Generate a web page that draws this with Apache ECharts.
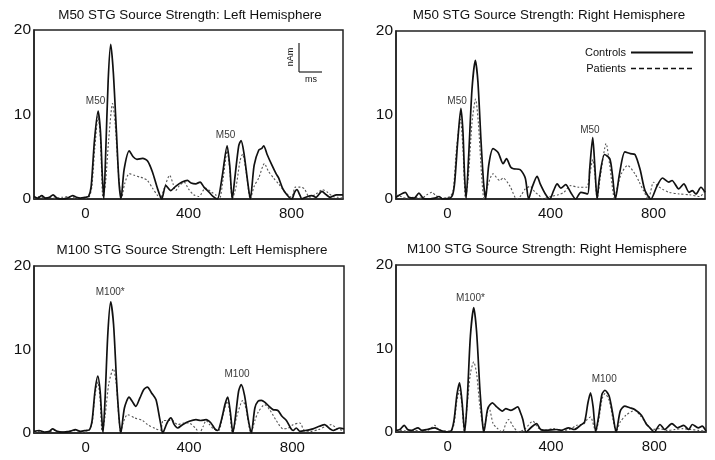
<!DOCTYPE html>
<html>
<head>
<meta charset="utf-8">
<script src="https://cdn.jsdelivr.net/npm/echarts@6/dist/echarts.min.js"></script>
<style>
  html, body { margin: 0; padding: 0; background: #fff; }
  #main { width: 715px; height: 460px; }
</style>
</head>
<body>
<div id="main"></div>
<script>
// panel titles
const titles = [
  'M50 STG Source Strength: Left Hemisphere',
  'M50 STG Source Strength: Right Hemisphere',
  'M100 STG Source Strength: Left Hemisphere',
  'M100 STG Source Strength: Right Hemisphere'
]

// time (ms) vs source strength (nAm)
const m50LeftControls = [[-200,0.3],[-185,0.1],[-170,0.4],[-155,0.1],[-140,0.2],[-126,0.5],[-110,0.1],[-90,0],[-70,0.1],[-50,0.4],[-35,0.2],[-20,0.1],[0,0.2],[12,0.3],[22,1.5],[35,7],[49,10.4],[58,8],[65,3],[71,0],[78,5],[88,14],[98,18.3],[108,15],[120,8],[130,2],[138,0],[150,3.5],[170,5.7],[185,5],[200,4.7],[222,4.8],[241,4.5],[260,3.2],[280,1.2],[296,0],[312,1.6],[331,1.0],[350,1.5],[375,2.0],[396,2.2],[410,1.9],[428,1.8],[445,2.0],[460,1.4],[480,0.8],[495,0.3],[512,0],[530,2.5],[550,6.3],[560,4],[570,0],[580,2.5],[595,6.3],[604,6.9],[615,5.5],[630,2],[640,0],[655,4],[673,5.8],[685,6.0],[692,6.3],[705,5.3],[724,4.0],[740,3.0],[750,2.5],[765,1.3],[782,0.5],[801,0],[812,0.8],[821,1.1],[832,0.5],[840,0],[855,0.2],[879,0.4],[895,0.2],[918,0.9],[935,0.5],[950,0.2],[975,0.5],[1000,0.5]]
const m50LeftPatients = [[-200,0.1],[-180,0.3],[-160,0.1],[-140,0.2],[-120,0.1],[-90,0.2],[-60,0.3],[-40,0.1],[0,0.1],[15,0.3],[25,1.5],[36,6],[49,9.8],[58,7],[68,0],[78,2],[90,7],[105,11.3],[115,9],[128,3],[140,0],[152,1.8],[170,3.0],[190,2.8],[210,2.6],[222,2.5],[240,2.2],[260,1.3],[280,0.4],[290,0],[305,1.2],[327,2.8],[340,1.8],[350,1.0],[365,1.6],[383,2.0],[400,1.2],[420,0.5],[440,0.3],[466,1.3],[490,0.8],[505,0.5],[520,0],[535,2.5],[550,5.7],[560,3.5],[570,0],[585,1.5],[600,4.5],[610,5.3],[625,3],[640,0],[655,1.5],[673,2.5],[695,4.2],[710,3.3],[730,2.5],[750,1.8],[770,1.0],[800,0.2],[815,1.4],[835,1.4],[850,1.2],[870,0.2],[895,0.6],[920,1.1],[940,0.8],[960,0.3],[980,0.2],[1000,0.1]]

const m50RightControls = [[-200,0.2],[-185,0.5],[-164,0.8],[-150,0.2],[-130,0.1],[-111,0.7],[-95,0.1],[-70,0],[-50,0.1],[-33,0.3],[-20,0],[10,0.1],[20,0.5],[28,2],[40,7],[52,10.8],[60,8],[66,3],[72,0],[82,5],[95,13],[108,16.5],[118,14],[130,7],[140,2],[148,0],[160,4],[177,6.0],[197,5.5],[216,4.2],[229,4.8],[245,3.8],[256,3.6],[282,3.5],[302,2.5],[315,0],[330,1.5],[348,2.7],[360,1.8],[380,0.6],[397,0],[412,1.0],[426,1.8],[440,1.3],[459,1.7],[478,0.8],[498,0],[518,0.8],[544,0.6],[552,3.5],[564,7.3],[572,4],[581,0],[590,2.5],[610,5.3],[630,4.8],[640,3],[652,0],[668,3],[689,5.6],[710,5.4],[728,5.3],[748,3.5],[767,1.0],[790,0],[813,1.5],[835,2.5],[859,2.0],[872,2.2],[898,1.2],[918,1.8],[938,0.8],[951,1.0],[965,0.6],[984,1.4],[1000,0.8]]
const m50RightPatients = [[-200,0.5],[-180,0.3],[-160,0.1],[-130,0.2],[-100,0.1],[-80,0.5],[-60,0.8],[-45,0.4],[-20,0.1],[10,0.3],[22,1],[35,6],[50,9.5],[60,6],[70,0],[82,3],[95,9],[109,11.9],[120,9],[132,3],[142,0],[155,1.5],[177,3.0],[203,2.2],[216,2.5],[243,1.5],[269,0],[285,0.4],[302,1.2],[321,1.5],[340,0.8],[354,0.5],[370,0],[400,0.3],[430,0.5],[452,0.8],[479,1.6],[510,1.4],[540,1.4],[553,3],[564,4.7],[572,3],[581,0],[595,3],[616,6.6],[630,4],[649,0],[660,1.5],[675,3.0],[699,4.0],[728,3.0],[745,2.0],[761,1.0],[780,0],[800,2.0],[815,1.6],[833,1.2],[860,0.8],[900,0.6],[940,0.5],[980,0.3],[1000,1.0]]

const m100LeftControls = [[-200,0.2],[-180,0.3],[-160,0.1],[-140,0.2],[-129,0.5],[-110,0.2],[-90,0.1],[-60,0.2],[-40,0.4],[-20,0.2],[0,0.3],[15,0.4],[25,1.5],[36,5],[47,6.8],[56,5],[62,2],[67,0],[75,4],[86,12],[97,15.7],[108,13],[120,6],[130,1.5],[136,0],[150,3],[168,4.3],[180,3.8],[194,3.2],[210,4.2],[225,5.2],[239,5.5],[255,4.8],[272,4.0],[285,2],[291,1.0],[298,0],[315,1.2],[330,1.8],[343,1.0],[356,0.6],[375,1.0],[401,1.4],[427,1.6],[445,1.5],[466,1.6],[485,1.2],[500,0.5],[511,0.3],[525,1.5],[540,3.5],[550,4.3],[560,2.5],[570,0],[580,2],[592,5.0],[602,5.8],[615,4.5],[630,1.5],[641,0],[655,3],[667,3.8],[680,3.9],[693,3.7],[710,3.2],[725,2.8],[744,2.7],[760,2.0],[777,1.5],[795,0.5],[803,0.3],[815,0.6],[829,0.2],[850,0.3],[880,0.5],[905,0.8],[925,1.0],[945,0.5],[958,0.3],[984,0.6],[1000,0.5]]
const m100LeftPatients = [[-200,0.1],[-180,0.2],[-150,0.1],[-120,0.3],[-100,0.1],[-70,0.2],[-40,0.3],[-10,0.1],[10,0.2],[25,1.2],[36,4.5],[47,6.1],[56,4],[64,0],[75,2],[90,6],[107,7.7],[118,6],[128,2],[135,0],[145,1.2],[162,2.2],[190,1.8],[220,1.5],[240,1.0],[272,0.5],[290,0.3],[300,1.5],[320,1.5],[336,1.5],[356,1.0],[380,1.2],[400,1.2],[427,0.5],[440,0],[455,0.8],[466,1.5],[480,1.0],[495,0.5],[515,0.3],[530,2],[548,3.8],[558,2.5],[568,0],[585,2],[608,3.9],[620,3],[640,0],[655,1.5],[668,2.5],[693,3.4],[712,2.8],[738,1.5],[764,0.5],[785,0.6],[803,1.0],[829,1.2],[846,0.3],[870,0.2],[900,0.4],[930,0.8],[950,1.0],[975,0.5],[1000,0.3]]

const m100RightControls = [[-200,0.2],[-185,0.3],[-168,0.8],[-155,0.3],[-140,0.2],[-115,0.5],[-100,0.2],[-80,0.3],[-50,0.5],[-35,0.3],[-20,0.1],[0,0],[15,0.2],[25,1.5],[36,4.5],[46,5.9],[56,3.5],[66,0],[76,4],[88,11.5],[101,14.9],[112,12],[125,5],[135,1.0],[140,0],[155,2.8],[173,3.5],[190,3.0],[212,2.5],[225,2.8],[245,2.6],[271,3.0],[282,2.3],[291,1.5],[304,0],[325,0.6],[344,1.0],[360,0.3],[383,0.2],[420,0.3],[440,0.2],[468,0.5],[490,0.3],[514,0.8],[530,1.2],[543,3.5],[553,4.7],[563,3],[573,0],[585,2],[597,4.5],[609,5.0],[625,4.3],[640,2],[652,0],[668,2.5],[685,3.1],[705,2.9],[724,2.7],[750,2.0],[768,1.0],[783,0.5],[800,0],[822,0.9],[840,0.3],[868,1.0],[890,0.5],[914,0.8],[933,0.3],[947,0.9],[970,0.5],[985,0.7],[1000,0.1]]
const m100RightPatients = [[-200,0.1],[-180,0.2],[-160,0.1],[-130,0.2],[-100,0.1],[-70,0.3],[-50,0.8],[-35,0.3],[-10,0.1],[15,0.2],[25,1.0],[36,3.8],[46,5.0],[56,3],[64,0],[75,3],[88,7],[101,8.4],[112,7],[125,3],[140,0.5],[160,2.9],[176,1.0],[190,0.5],[212,0],[225,1.0],[236,1.5],[255,0.6],[275,0],[300,0.4],[330,1.3],[350,0.5],[370,0.2],[410,0.4],[440,0.2],[470,0.3],[500,0.8],[528,1.0],[540,1.5],[553,1.8],[565,0.8],[573,0],[585,1.5],[598,4.0],[609,4.6],[625,3.8],[640,1.5],[652,0],[668,1.2],[690,2.0],[724,2.6],[745,2.0],[770,1.0],[790,0.3],[820,0.4],[850,0.2],[880,0.3],[910,0.4],[940,0.3],[970,0.2],[1000,0.1]]

// peak labels: [ms, nAm, text]
const m50LeftLabels = [[39, 11.6, 'M50'], [544, 7.6, 'M50']]
const m50RightLabels = [[37, 11.6, 'M50'], [553, 8.2, 'M50']]
const m100LeftLabels = [[95, 16.8, 'M100*'], [586, 7.0, 'M100']]
const m100RightLabels = [[88, 16.0, 'M100*'], [606, 6.3, 'M100']]

const xTicks = [0, 400, 800]
const yTicks = [0, 10, 20]

const panels = [
  { controls: m50LeftControls, patients: m50LeftPatients, labels: m50LeftLabels },
  { controls: m50RightControls, patients: m50RightPatients, labels: m50RightLabels },
  { controls: m100LeftControls, patients: m100LeftPatients, labels: m100LeftLabels },
  { controls: m100RightControls, patients: m100RightPatients, labels: m100RightLabels }
]

const grids = [
  { left: 34, top: 30, width: 309, height: 169 },
  { left: 396, top: 31, width: 309, height: 168 },
  { left: 34, top: 266, width: 310, height: 167 },
  { left: 396, top: 265, width: 310, height: 167 }
]
const titlePos = [[190, 9], [549, 9], [192, 244], [547, 243]]

const font = 'Liberation Sans, Arial, sans-serif'

const option = {
  backgroundColor: '#fff',
  animation: false,
  title: titles.map((t, i) => ({
    text: t,
    left: titlePos[i][0] - 5,
    top: titlePos[i][1] - 5,
    textAlign: 'center',
    textStyle: { fontSize: 13.4, fontWeight: 'normal', color: '#111', fontFamily: font }
  })),
  legend: {
    data: [
      { name: 'Controls' },
      { name: 'Patients', lineStyle: { type: [5, 3], width: 1.5, color: '#111' } }
    ],
    orient: 'vertical',
    align: 'right',
    right: 16,
    top: 42,
    itemWidth: 62,
    itemHeight: 10,
    itemGap: 5,
    itemStyle: { color: 'rgba(0,0,0,0)', borderWidth: 0, opacity: 0 },
    textStyle: { fontSize: 11, color: '#111', fontFamily: font }
  },
  grid: grids.map(g => Object.assign({ show: true, borderColor: '#222', borderWidth: 1.5, backgroundColor: 'transparent' }, g)),
  xAxis: grids.map((g, i) => ({
    type: 'value',
    gridIndex: i,
    min: -200,
    max: 1000,
    interval: 200,
    axisLine: { show: true, onZero: false, lineStyle: { color: '#222', width: 1.5 } },
    axisTick: { show: false },
    splitLine: { show: false },
    axisLabel: {
      fontSize: 15,
      color: '#111',
      fontFamily: font,
      margin: 7,
      formatter: v => (xTicks.includes(v) ? String(v) : '')
    }
  })),
  yAxis: grids.map((g, i) => ({
    type: 'value',
    gridIndex: i,
    min: 0,
    max: 20,
    interval: 10,
    axisLine: { show: true, onZero: false, lineStyle: { color: '#222', width: 1.5 } },
    axisTick: { show: false },
    splitLine: { show: false },
    axisLabel: {
      fontSize: 15.5,
      color: '#111',
      fontFamily: font,
      margin: 3,
      formatter: v => (yTicks.includes(v) ? String(v) : '')
    }
  })),
  graphic: [
    // scale bar in the first panel
    { type: 'line', shape: { x1: 299, y1: 43, x2: 299, y2: 72 }, style: { stroke: '#222', lineWidth: 1.2 } },
    { type: 'line', shape: { x1: 299, y1: 72, x2: 322, y2: 72 }, style: { stroke: '#222', lineWidth: 1.2 } },
    { type: 'text', x: 291, y: 57, rotation: Math.PI / 2, style: { text: 'nAm', fontSize: 9, fill: '#111', fontFamily: font, align: 'center', verticalAlign: 'middle' } },
    { type: 'text', x: 311, y: 80, style: { text: 'ms', fontSize: 9, fill: '#111', fontFamily: font, align: 'center', verticalAlign: 'middle' } }
  ],
  series: []
}

panels.forEach((p, i) => {
  option.series.push({
    name: 'Controls',
    type: 'line',
    xAxisIndex: i,
    yAxisIndex: i,
    data: p.controls,
    symbol: 'none',
    smooth: 0.25,
    lineStyle: { color: '#111', width: 1.7 },
    itemStyle: { color: '#111' },
    z: 3
  })
  option.series.push({
    name: 'Patients',
    type: 'line',
    xAxisIndex: i,
    yAxisIndex: i,
    data: p.patients,
    symbol: 'none',
    smooth: 0.25,
    lineStyle: { color: '#555', width: 1.1, type: [2, 2] },
    itemStyle: { color: '#111' },
    z: 2
  })
  option.series.push({
    name: 'labels' + i,
    type: 'scatter',
    xAxisIndex: i,
    yAxisIndex: i,
    data: p.labels,
    symbolSize: 1,
    itemStyle: { color: 'rgba(0,0,0,0)' },
    label: {
      show: true,
      position: 'inside',
      formatter: d => d.value[2],
      fontSize: 10,
      color: '#000',
      fontFamily: font
    },
    silent: true,
    z: 5
  })
})

const myChart = echarts.init(document.getElementById('main'))
myChart.setOption(option)
</script>
</body>
</html>
